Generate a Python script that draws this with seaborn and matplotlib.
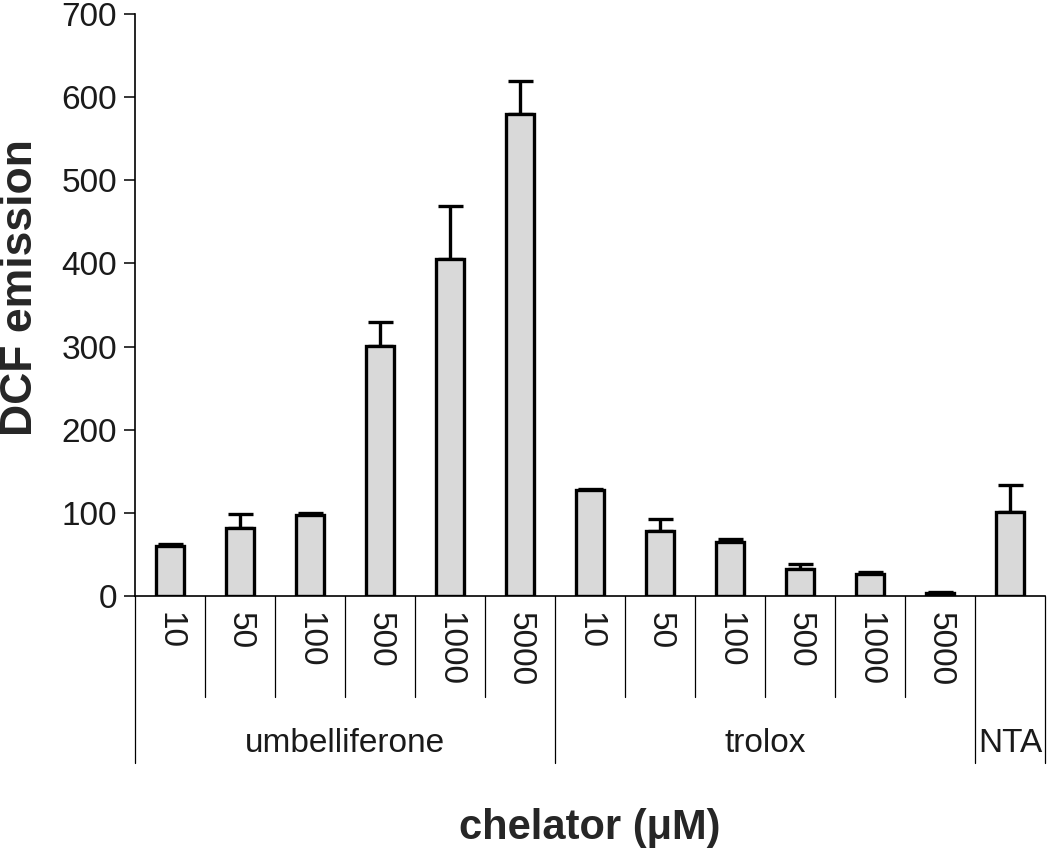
import numpy as np
import pandas as pd
import matplotlib
matplotlib.use("Agg")
import matplotlib.pyplot as plt
import seaborn as sns

# ---- data ----
groups = ["umbelliferone", "trolox", "NTA"]
concentrations = ["10", "50", "100", "500", "1000", "5000",
                  "10", "50", "100", "500", "1000", "5000", ""]
group_of_bar = ["umbelliferone"] * 6 + ["trolox"] * 6 + ["NTA"]
dcf_values = [60, 82, 97, 301, 405, 580, 127, 78, 65, 32, 27, 4, 101]
dcf_errors = [2, 17, 3, 28, 64, 40, 2, 15, 3, 7, 2, 1, 33]
y_ticks = [0, 100, 200, 300, 400, 500, 600, 700]

sns.set_theme(style="ticks")
plt.rcParams["font.family"] = ["Liberation Sans", "DejaVu Sans"]

df = pd.DataFrame({
    "key": [f"{g}|{c}|{i}" for i, (g, c) in enumerate(zip(group_of_bar, concentrations))],
    "value": dcf_values,
})

W, H = 1050, 852
fig = plt.figure(figsize=(W / 100, H / 100), dpi=100)
ax_left, ax_right, ax_top, ax_bottom = 135, 1045, 14, 596
ax = fig.add_axes([ax_left / W, 1 - ax_bottom / H,
                   (ax_right - ax_left) / W, (ax_bottom - ax_top) / H])

sns.barplot(data=df, x="key", y="value", order=list(df["key"]),
            color="#d9d9d9", saturation=1, edgecolor="black", linewidth=2.4,
            width=0.4, errorbar=None, ax=ax, zorder=3)

xpos = np.arange(len(dcf_values))
ax.errorbar(xpos, dcf_values, yerr=[np.zeros(len(dcf_errors)), dcf_errors],
            fmt="none", ecolor="black", elinewidth=2.4, capsize=9, capthick=2.4,
            zorder=2)

ax.set_xlim(-0.5, len(dcf_values) - 0.5)
ax.set_ylim(0, 700)
ax.set_yticks(y_ticks)
ax.set_yticklabels([str(t) for t in y_ticks], fontsize=24, color="#1a1a1a")
ax.tick_params(axis="y", length=8, width=1.1, color="black", pad=5)
ax.set_xticks([])
ax.set_xlabel("")
ax.set_ylabel("")
for s in ["top", "right"]:
    ax.spines[s].set_visible(False)
ax.spines["left"].set_linewidth(1.2)
ax.spines["left"].set_color("black")
ax.spines["bottom"].set_linewidth(1.2)
ax.spines["bottom"].set_color("black")

# ---- category table below axis ----
axh = ax_bottom - ax_top
def yfrac(py):
    return (ax_bottom - py) / axh

trans = ax.get_xaxis_transform()
inner_end = yfrac(697)
outer_end = yfrac(763)
n = len(dcf_values)
group_bounds = [0, 6, 12, 13]
for b in range(n + 1):
    edge = b - 0.5
    y_end = outer_end if b in group_bounds else inner_end
    ax.plot([edge, edge], [0, y_end], transform=trans, color="black",
            lw=0.9, clip_on=False)

for i, c in enumerate(concentrations):
    if c:
        ax.text(i, yfrac(612), c, transform=trans, rotation=270,
                ha="center", va="top", fontsize=24, color="#1a1a1a")

for gi, g in enumerate(groups):
    start, end = group_bounds[gi], group_bounds[gi + 1]
    ax.text((start + end - 1) / 2, yfrac(743), g, transform=trans,
            ha="center", va="center", fontsize=24, color="#1a1a1a")

fig.text((ax_left + ax_right) / 2 / W, 1 - 828 / H, "chelator (μM)",
         ha="center", va="center", fontsize=30, fontweight="bold")
fig.text(21 / W, 1 - 288 / H, "DCF emission", rotation=90,
         ha="center", va="center", fontsize=32, fontweight="bold")

fig.savefig("out.png", dpi=100, facecolor="white")
